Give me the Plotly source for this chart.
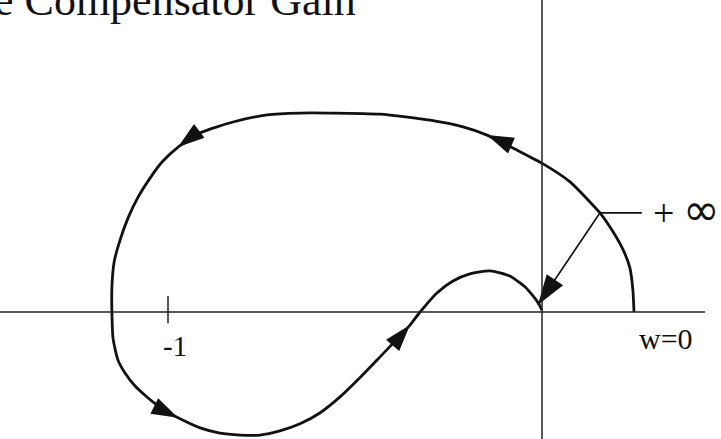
import numpy as np
import plotly.graph_objects as go

# Nyquist locus with the compensator gain, traced from w=0 towards w=+inf
re_part = [0.246, 0.243, 0.235, 0.217, 0.187, 0.155, 0.118, 0.075, 0.003, -0.067,
           -0.147, -0.211, -0.299, -0.433, -0.567, -0.647, -0.735, -0.826, -0.914, -0.973,
           -1.016, -1.048, -1.080, -1.107, -1.128, -1.144, -1.150, -1.150, -1.147, -1.134,
           -1.115, -1.088, -1.053, -1.016, -0.973, -0.914, -0.861, -0.807, -0.754, -0.701,
           -0.647, -0.594, -0.540, -0.487, -0.433, -0.393, -0.353, -0.326, -0.281, -0.238,
           -0.193, -0.139, -0.086, -0.045, -0.024, -0.008, 0.000]
im_part = [0.000, 0.059, 0.118, 0.166, 0.219, 0.265, 0.305, 0.348, 0.396, 0.433,
           0.473, 0.495, 0.513, 0.529, 0.532, 0.532, 0.527, 0.508, 0.479, 0.441,
           0.401, 0.358, 0.307, 0.251, 0.193, 0.134, 0.067, 0.000, -0.070, -0.128,
           -0.163, -0.198, -0.230, -0.259, -0.283, -0.310, -0.324, -0.329, -0.329, -0.318,
           -0.299, -0.270, -0.227, -0.176, -0.120, -0.078, -0.035, 0.000, 0.051, 0.083,
           0.102, 0.110, 0.096, 0.067, 0.043, 0.021, 0.005]

# samples of the locus where the direction arrows point to
arrow_idx = [10, 19, 34, 46]

# the "+inf" pointer: leaves the locus at this sample and ends near the origin
inf_corner_idx = 5
inf_label_end = 0.267
inf_tip = (-0.011, 0.019)

critical_point = -1.0
critical_label = "-1"
w0_label = "w=0"
title_text = "e Compensator Gain"

# ---- layout geometry (pixels per unit, origin location) ----
W, H = 721, 439
PPU = 374.0
ox, oy = 542.0, 312.0
x_range = [-ox / PPU, (W - ox) / PPU]
y_range = [(oy - H) / PPU, oy / PPU]

re = np.array(re_part)
im = np.array(im_part)

ink = "#111111"

fig = go.Figure()

# real and imaginary axes
fig.add_shape(type="line", x0=x_range[0], x1=(705 - ox) / PPU, y0=0, y1=0,
              line=dict(color="#222222", width=1.5))
fig.add_shape(type="line", x0=0, x1=0, y0=y_range[0], y1=y_range[1],
              line=dict(color="#222222", width=1.5))
# tick at the critical point
fig.add_shape(type="line", x0=critical_point, x1=critical_point, y0=-0.03, y1=0.043,
              line=dict(color="#222222", width=1.5))

# the locus
fig.add_trace(go.Scatter(x=re, y=im, mode="lines",
                         line=dict(color=ink, width=2.8, shape="spline", smoothing=0.6),
                         hoverinfo="skip", showlegend=False))

# direction arrows along the locus
ai = np.array(arrow_idx)
dx = re[ai + 1] - re[ai - 1]
dy = im[ai + 1] - im[ai - 1]
angles = np.degrees(np.arctan2(dx, dy))
fig.add_trace(go.Scatter(x=re[ai], y=im[ai], mode="markers",
                         marker=dict(symbol="arrow", size=28, angle=angles, color=ink,
                                     line=dict(width=0)),
                         hoverinfo="skip", showlegend=False))

# "+inf" pointer line and arrowhead
cx, cy = re[inf_corner_idx], im[inf_corner_idx]
fig.add_trace(go.Scatter(x=[inf_label_end, cx, inf_tip[0]], y=[cy, cy, inf_tip[1]],
                         mode="lines", line=dict(color=ink, width=1.7),
                         hoverinfo="skip", showlegend=False))
p_ang = np.degrees(np.arctan2(inf_tip[0] - cx, inf_tip[1] - cy))
fig.add_trace(go.Scatter(x=[inf_tip[0]], y=[inf_tip[1]], mode="markers",
                         marker=dict(symbol="arrow", size=32, angle=[p_ang], color=ink,
                                     line=dict(width=0)),
                         hoverinfo="skip", showlegend=False))

serif = "Liberation Serif, Times New Roman, serif"

fig.add_annotation(x=inf_label_end + 0.058, y=cy, text="+", showarrow=False,
                   font=dict(family=serif, size=38, color=ink), xanchor="center", yanchor="middle")
fig.add_annotation(x=inf_label_end + 0.16, y=cy + 0.008, text="∞", showarrow=False,
                   font=dict(family="DejaVu Sans", size=44, color=ink),
                   xanchor="center", yanchor="middle")
fig.add_annotation(x=critical_point + 0.018, y=-0.09, text=critical_label, showarrow=False,
                   font=dict(family=serif, size=29, color=ink), xanchor="center", yanchor="middle")
fig.add_annotation(x=re[0] + 0.086, y=-0.07, text=w0_label, showarrow=False,
                   font=dict(family=serif, size=30, color=ink), xanchor="center", yanchor="middle")
fig.add_annotation(x=0, y=1.0, xref="paper", yref="paper", xshift=-8, yshift=0,
                   text=title_text, showarrow=False,
                   font=dict(family=serif, size=44, color=ink), xanchor="left", yanchor="middle")

fig.update_layout(
    width=W, height=H,
    margin=dict(l=0, r=0, t=0, b=0),
    paper_bgcolor="white", plot_bgcolor="white",
    xaxis=dict(range=x_range, visible=False, fixedrange=True),
    yaxis=dict(range=y_range, visible=False, fixedrange=True),
    showlegend=False,
)

fig.write_html("out.html")
